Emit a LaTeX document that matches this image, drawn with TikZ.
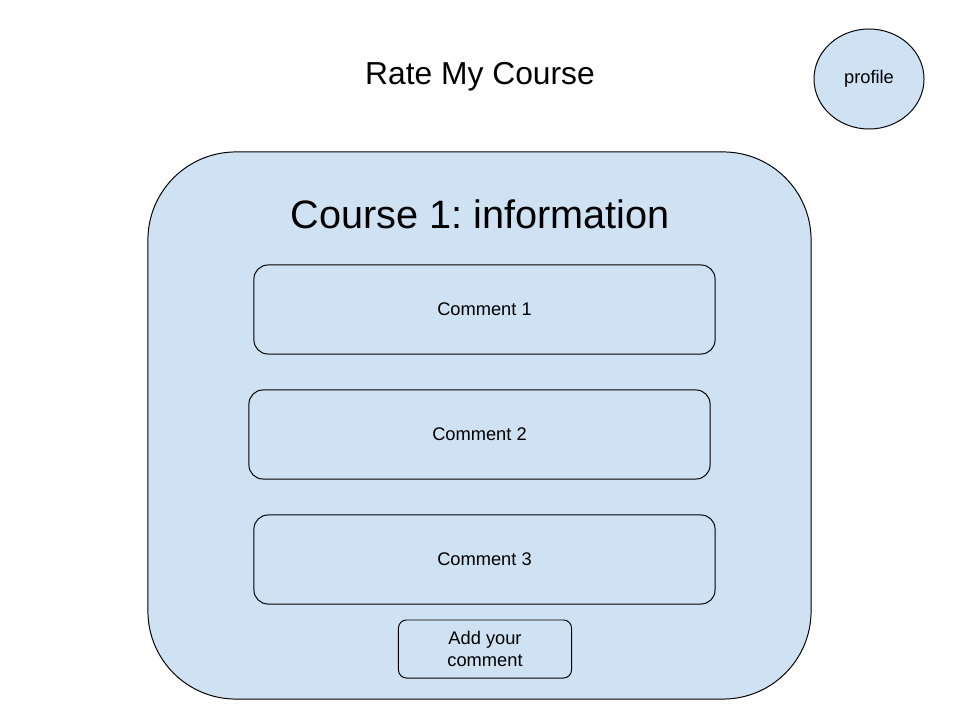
\documentclass[tikz,border=0pt]{standalone}
\usepackage{fontspec}
\setmainfont{Liberation Sans}
\frenchspacing
\usetikzlibrary{shapes.geometric}
\definecolor{paleblue}{HTML}{CFE2F3}
\tikzset{
    panel/.style = {draw, fill=paleblue, line width=0.7pt, outer sep=0pt},
    commentbox/.style = {panel, rectangle, rounded corners=0.35cm,
        minimum width=11.525cm, minimum height=2.225cm,
        font=\fontsize{13}{15.6}\selectfont},
}

\begin{document}
\begin{tikzpicture}[x=0.025cm, y=-0.025cm]
    \useasboundingbox (0,0) rectangle (960,720);
    \node (title) at (480,76.5) {\fontsize{22.6}{27}\selectfont Rate My Course};
    \node[panel, ellipse, minimum width=2.75cm, minimum height=2.5cm,
        font=\fontsize{13}{15.6}\selectfont] (profile) at (869,79) {profile};
    \node[panel, rectangle, rounded corners=2.2cm,
        minimum width=16.575cm, minimum height=13.675cm] (course) at (479.5,425.5) {};
    \node (info) at (480,214) {\fontsize{28.2}{34}\selectfont Course 1: information};
    \node[commentbox] (c1) at (484.5,309.5) {Comment 1};
    \node[commentbox] (c2) at (479.5,434.5) {Comment 2};
    \node[commentbox] (c3) at (484.5,559.5) {Comment 3};
    \node[panel, rectangle, rounded corners=0.2cm, minimum width=4.325cm,
        minimum height=1.45cm, align=center,
        font=\fontsize{13}{15.6}\selectfont] (add) at (485,649) {Add your\\comment};
\end{tikzpicture}
\end{document}
